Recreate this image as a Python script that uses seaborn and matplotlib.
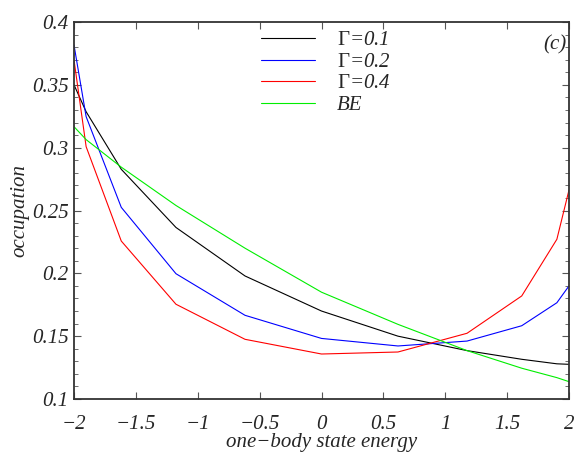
import numpy as np
import pandas as pd
import matplotlib
matplotlib.use("Agg")
import matplotlib.pyplot as plt
import seaborn as sns
from matplotlib.ticker import MultipleLocator

energy = [-2.0, -1.902, -1.618, -1.176, -0.618, 0.0, 0.618, 1.176, 1.618, 1.902, 2.0]
occ_g01 = [0.350, 0.3286, 0.2828, 0.2365, 0.1979, 0.1700, 0.1500, 0.1385, 0.1316, 0.1280, 0.1276]
occ_g02 = [0.3817, 0.3247, 0.2525, 0.1997, 0.1666, 0.1482, 0.1422, 0.1461, 0.1583, 0.1766, 0.1900]
occ_g04 = [0.3698, 0.3008, 0.2257, 0.1754, 0.1475, 0.1358, 0.1374, 0.1523, 0.1820, 0.2271, 0.2663]
occ_be = [0.3167, 0.3064, 0.2845, 0.2540, 0.2200, 0.1850, 0.1594, 0.1385, 0.1245, 0.1170, 0.1138]
labels = [r"$\mathrm{\Gamma}$=0.1", r"$\mathrm{\Gamma}$=0.2", r"$\mathrm{\Gamma}$=0.4", "BE"]
colors = ["#000000", "#0000ff", "#ff0000", "#00ee00"]
xtick_vals = [-2, -1.5, -1, -0.5, 0, 0.5, 1, 1.5, 2]
xtick_labels = ["\u22122", "\u22121.5", "\u22121", "\u22120.5", "0", "0.5", "1", "1.5", "2"]
ytick_vals = [0.1, 0.15, 0.2, 0.25, 0.3, 0.35, 0.4]
ytick_labels = ["0.1", "0.15", "0.2", "0.25", "0.3", "0.35", "0.4"]

frames = []
for lab, vals in zip(labels, [occ_g01, occ_g02, occ_g04, occ_be]):
    frames.append(pd.DataFrame({"energy": energy, "occupation": vals, "series": lab}))
df = pd.concat(frames, ignore_index=True)

sns.set_style("ticks")
plt.rcParams["font.family"] = ["Liberation Serif", "DejaVu Serif"]
plt.rcParams["mathtext.fontset"] = "custom"
plt.rcParams["mathtext.rm"] = "Liberation Serif"
plt.rcParams["mathtext.it"] = "Liberation Serif:italic"
plt.rcParams["axes.unicode_minus"] = True

fig = plt.figure(figsize=(5.81, 4.58), dpi=100)
ax = fig.add_axes([74 / 581, 1 - 399 / 458, 495 / 581, 377 / 458])

sns.lineplot(data=df, x="energy", y="occupation", hue="series", palette=colors,
             linewidth=0.8, ax=ax, sort=False, estimator=None)

ax.set_xlim(-2, 2)
ax.set_ylim(0.1, 0.4)
ax.yaxis.set_minor_locator(MultipleLocator(0.01))
ax.set_xticks(xtick_vals)
ax.set_xticklabels(xtick_labels, fontstyle="italic")
ax.set_yticks(ytick_vals)
ax.set_yticklabels(ytick_labels, fontstyle="italic")
ax.tick_params(axis="both", which="both", direction="in", top=True, right=True,
               labelsize=15, color="#555555")
ax.tick_params(axis="x", which="major", pad=11.5)
ax.tick_params(axis="y", which="major", pad=4)
ax.tick_params(which="major", length=5, width=0.8)
ax.tick_params(which="minor", length=3, width=0.6)
for s in ax.spines.values():
    s.set_linewidth(1.3)
    s.set_color("#333333")

ax.set_xlabel("one\u2212body state energy", fontsize=15, fontstyle="italic", labelpad=-1)
ax.set_ylabel("occupation", fontsize=15, fontstyle="italic", labelpad=2)

ax.text(0.995, 0.965, "(c)", transform=ax.transAxes, ha="right", va="top",
        fontsize=15, fontstyle="italic")

leg = ax.legend(loc="upper left", bbox_to_anchor=(0.339, 1.027), frameon=False,
                prop={"size": 15, "style": "italic"}, handlelength=2.6,
                handletextpad=1.05, labelspacing=0.1)
for line in leg.get_lines():
    line.set_linewidth(0.8)

fig.savefig("out.png", dpi=100)
